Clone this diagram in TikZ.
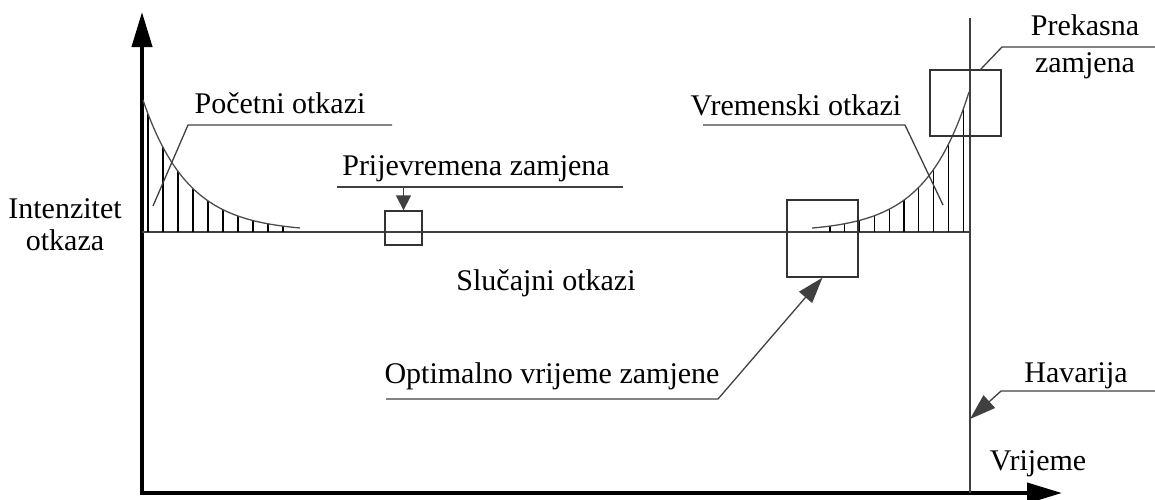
\documentclass[tikz,border=0pt]{standalone}
\usepackage{fontspec}
\setmainfont{Liberation Serif}
\usetikzlibrary{arrows.meta}
\begin{document}
\begin{tikzpicture}[x=1pt,y=-1pt,
  lbl/.style={font=\fontsize{30}{33}\selectfont, inner sep=0pt, anchor=base},
  fine/.style={line width=1.3pt, draw=black!75},
  hatch/.style={line width=1.2pt, draw=black},
  curveline/.style={line width=1.3pt, draw=black!70},
  axis/.style={line width=4pt, -{Triangle[length=35pt,width=20pt]}},
  pointer/.style={fine, -{Triangle[length=26pt,width=17pt]}},
  smallpointer/.style={fine, -{Triangle[length=15pt,width=15pt]}},
  boxn/.style={draw=black!80, line width=1.3pt, inner sep=0pt}
]
\useasboundingbox (0,0) rectangle (1155,499);

% axes
\coordinate (Oy) at (142,495);
\coordinate (Ox) at (140,493);
\coordinate (ytip) at (142,12);
\coordinate (xtip) at (1062,493);
\draw[axis] (Oy) -- (ytip);
\draw[axis] (Ox) -- (xtip);

% level line and crash line
\coordinate (lvlL) at (142,232);
\coordinate (lvlR) at (970,232);
\draw[fine] (lvlL) -- (lvlR);
\coordinate (vtop) at (970,18);
\coordinate (vbot) at (970,493);
\draw[fine] (vtop) -- (vbot);

% early failures
\foreach \x in {148,163,...,283}
  \draw[hatch] (\x,232) -- (\x,{232-132*exp(-(\x-143)/45)});
\draw[curveline] plot[domain=143:300, samples=60] (\x,{232-132*exp(-(\x-143)/45)});

% wear-out failures
\foreach \i in {0,...,9}
  \draw[hatch] ({830+14.8*\i},232) -- ({830+14.8*\i},{232-140*exp((830+14.8*\i-969)/44)});
\draw[curveline] plot[domain=812:969, samples=60] (\x,{232-140*exp((\x-969)/44)});

% boxes
\node[boxn, minimum width=37pt, minimum height=34pt] (b1) at (403.5,228) {};
\node[boxn, minimum width=71pt, minimum height=77pt] (b2) at (822.5,238.5) {};
\node[boxn, minimum width=71pt, minimum height=66pt] (b3) at (965.5,103) {};

% labels
\node[lbl] (tint1) at (65,218) {Intenzitet};
\node[lbl] (tint2) at (65,250) {otkaza};
\node[lbl] (tpoc) at (280,113) {Početni otkazi};
\node[lbl] (tpri) at (476,175) {Prijevremena zamjena};
\node[lbl] (tvre) at (796,115) {Vremenski otkazi};
\node[lbl] (tpre1) at (1085,35) {Prekasna};
\node[lbl] (tpre2) at (1085,72) {zamjena};
\node[lbl] (tslu) at (546,290) {Slučajni otkazi};
\node[lbl] (topt) at (552,383) {Optimalno vrijeme zamjene};
\node[lbl] (thav) at (1076,382) {Havarija};
\node[lbl] (tvri) at (1038,470) {Vrijeme};

% leaders
\coordinate (pocR) at (392,125);
\coordinate (pocL) at (188,125);
\coordinate (pocE) at (153,206);
\draw[fine] (pocR) -- (pocL) -- (pocE);

\coordinate (priL) at (337,187);
\coordinate (priR) at (623,187);
\coordinate (priA) at (403.5,187);
\draw[fine] (priL) -- (priR);
\draw[smallpointer] (priA) -- (b1.north);

\coordinate (vreL) at (703,125);
\coordinate (vreR) at (905,125);
\coordinate (vreE) at (943,205);
\draw[fine] (vreL) -- (vreR) -- (vreE);

\coordinate (preR) at (1155,47);
\coordinate (preK) at (1002,47);
\coordinate (preE) at (980,70);
\draw[fine] (preR) -- (preK) -- (preE);

\coordinate (optL) at (386,399);
\coordinate (optK) at (718,399);
\draw[pointer] (optL) -- (optK) -- (b2.south);

\coordinate (havR) at (1155,391);
\coordinate (havK) at (1001,391);
\coordinate (havE) at (970,419);
\draw[pointer] (havR) -- (havK) -- (havE);
\end{tikzpicture}
\end{document}
